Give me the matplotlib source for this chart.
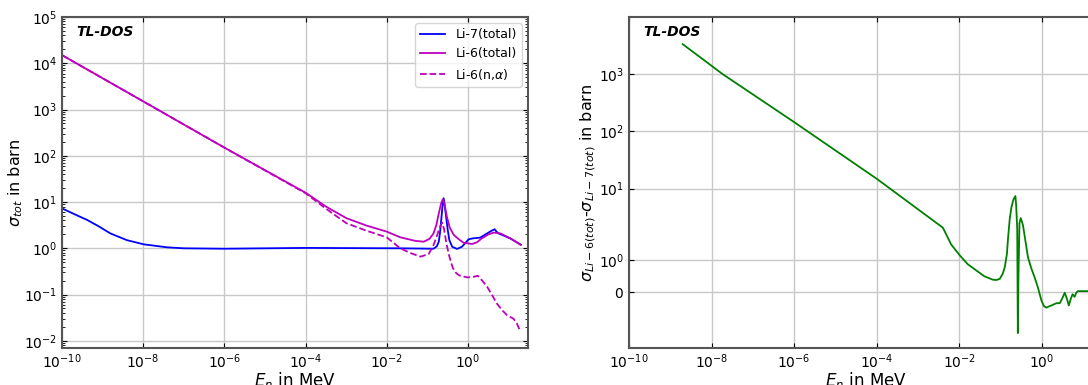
import numpy as np
import matplotlib
matplotlib.use("Agg")
import matplotlib.pyplot as plt

# energies (MeV, given as log10) and cross sections (barn)
le_li7 = [-10, -9.7, -9.38, -9.1, -8.81, -8.4, -7.99, -7.41, -7.0, -6.0, -4.0, -1.67,
          -0.85, -0.77, -0.72, -0.69, -0.66, -0.63, -0.60, -0.57, -0.54, -0.50, -0.46,
          -0.39, -0.27, -0.15, -0.05, 0.015, 0.14, 0.30, 0.47, 0.58, 0.655, 0.70, 0.75,
          0.90, 1.04, 1.17, 1.30]
s_li7 = [7.3, 5.5, 4.1, 3.0, 2.1, 1.5, 1.22, 1.05, 1.0, 0.98, 1.02, 1.0,
         0.98, 1.1, 1.39, 2.2, 4.1, 8.0, 12.1, 8.0, 4.8, 2.5, 1.5,
         1.08, 0.97, 1.08, 1.35, 1.57, 1.65, 1.7, 2.1, 2.4, 2.58, 2.3, 2.1,
         1.85, 1.64, 1.4, 1.2]

le_li6 = [-10, -8, -6, -4, -3.5, -3.0, -2.5, -2.0, -1.67, -1.3, -1.09, -0.95, -0.85,
          -0.78, -0.72, -0.66, -0.62, -0.58, -0.52, -0.45, -0.35, -0.22, -0.11, 0.10,
          0.22, 0.34, 0.50, 0.63, 0.80, 0.92, 1.04, 1.17, 1.30]
s_li6 = [15000, 1500, 150, 15.9, 8.0, 4.5, 3.1, 2.29, 1.73, 1.45, 1.39, 1.6, 2.1,
         3.2, 5.7, 9.5, 11.5, 9.0, 4.8, 2.8, 1.94, 1.55, 1.32, 1.24,
         1.35, 1.64, 2.0, 2.18, 2.1, 1.85, 1.64, 1.4, 1.18]

le_na = [-10, -8, -6, -4, -3.5, -3.0, -2.5, -2.0, -1.67, -1.4, -1.17, -0.97, -0.85,
         -0.78, -0.72, -0.64, -0.59, -0.54, -0.48, -0.42, -0.37, -0.29, -0.22, -0.02,
         0.12, 0.24, 0.35, 0.47, 0.60, 0.71, 0.85, 0.96, 1.12, 1.20, 1.29]
s_na = [15000, 1500, 150, 15.5, 7.2, 3.5, 2.4, 1.72, 1.0, 0.78, 0.66, 0.75, 1.18,
        1.7, 2.5, 3.6, 2.6, 1.4, 0.78, 0.5, 0.37, 0.29, 0.26, 0.235,
        0.24, 0.255, 0.2, 0.148, 0.095, 0.064, 0.045, 0.036, 0.030, 0.024, 0.016]

# difference Li-6(tot) - Li-7(tot)
le_diff = [-8.7, -7.73, -6.0, -4.0, -2.40, -2.2, -1.99, -1.8, -1.59, -1.4, -1.19, -1.1,
           -1.02, -0.95, -0.90, -0.85, -0.82, -0.78, -0.74, -0.69, -0.644, -0.625, -0.60,
           -0.585, -0.57, -0.545, -0.516, -0.49, -0.46, -0.40, -0.34, -0.26, -0.18, -0.10,
           -0.015, 0.05, 0.107, 0.17, 0.23, 0.35, 0.43, 0.49, 0.55, 0.60, 0.65, 0.70,
           0.74, 0.79, 0.83, 0.87, 1.10, 1.30]
s_diff = [3350, 1000, 145, 14.8, 2.07, 1.5, 1.155, 0.88, 0.68, 0.5, 0.39, 0.38,
          0.42, 0.58, 0.79, 1.2, 1.73, 3.0, 4.7, 6.5, 7.4, 5.0, 2.0,
          -1.29, 0.5, 2.5, 3.05, 2.7, 2.27, 1.6, 1.10, 0.75, 0.47, 0.15,
          -0.26, -0.45, -0.49, -0.45, -0.42, -0.35, -0.35, -0.2, -0.02, -0.2, -0.42, -0.2,
          -0.07, -0.15, -0.02, 0.03, 0.03, -0.02]

e_li7 = 10.0 ** np.array(le_li7)
e_li6 = 10.0 ** np.array(le_li6)
e_na = 10.0 ** np.array(le_na)
e_diff = 10.0 ** np.array(le_diff)

plt.rcParams['font.size'] = 10

fig = plt.figure(figsize=(10.88, 3.85), dpi=100)
ax1 = fig.add_axes([62/1088, 37/385, 466/1088, 331/385])
ax2 = fig.add_axes([629/1088, 37/385, 474/1088, 331/385])

for ax in (ax1, ax2):
    ax.grid(True, color='#c8c8c8', linewidth=1)
    ax.set_axisbelow(True)
    ax.tick_params(which='both', direction='in', top=True, right=True)
    for sp in ax.spines.values():
        sp.set_color('#555555')
        sp.set_linewidth(1.5)
    ax.text(0.03, 0.955, 'TL-DOS', transform=ax.transAxes, fontweight='bold',
            fontstyle='italic', va='center', fontsize=10)

ax1.plot(e_li7, s_li7, color='blue', lw=1.3, label='Li-7(total)')
ax1.plot(e_li6, s_li6, color='m', lw=1.3, label='Li-6(total)')
ax1.plot(e_na, s_na, color='m', lw=1.3, ls='--', label=r'Li-6(n,$\alpha$)')
ax1.set_xscale('log')
ax1.set_yscale('log')
ax1.set_xlim(1e-10, 30)
ax1.set_ylim(7e-3, 1e5)
ax1.set_xticks([1e-10, 1e-8, 1e-6, 1e-4, 1e-2, 1e0])
ax1.set_xlabel(r'$E_n$ in MeV', fontsize=12, labelpad=-1)
ax1.set_ylabel(r'$\sigma_{tot}$ in barn', fontsize=11.5)
ax1.yaxis.set_label_coords(-0.08, 0.5)
ax1.legend(loc='upper right', fontsize=9)

ax2.plot(e_diff, s_diff, color='green', lw=1.3)
ax2.set_xscale('log')
ax2.set_yscale('symlog', linthresh=2, linscale=1)
ax2.set_xlim(1e-10, 30)
ax2.set_ylim(-1.76, 1e4)
ax2.set_xticks([1e-10, 1e-8, 1e-6, 1e-4, 1e-2, 1e0])
ax2.set_yticks([0, 1, 10, 100, 1000])
ax2.set_xlabel(r'$E_n$ in MeV', fontsize=12, labelpad=-1)
ax2.set_ylabel(r'$\sigma_{Li-6(tot)}$-$\sigma_{Li-7(tot)}$ in barn', fontsize=11.5)
ax2.yaxis.set_label_coords(-0.066, 0.5)

fig.savefig('out.png', dpi=100)
